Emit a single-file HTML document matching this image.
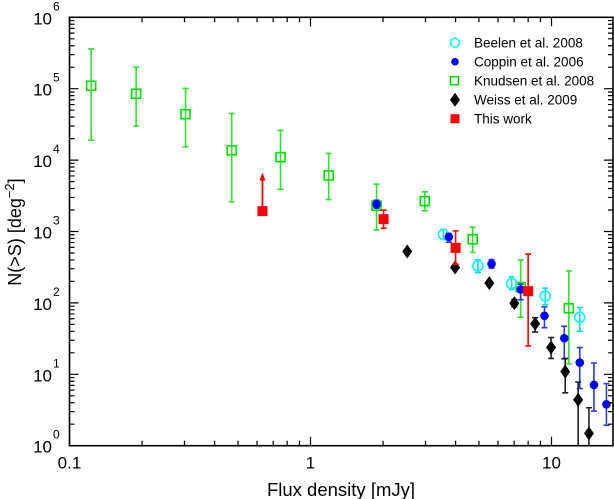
<!DOCTYPE html>
<html><head><meta charset="utf-8"><style>
html,body{margin:0;padding:0;background:#fff;width:614px;height:499px;overflow:hidden}
svg text{font-family:"Liberation Sans",Arial,sans-serif;fill:#000}
</style></head><body>
<svg id="chart" width="614" height="499" xmlns="http://www.w3.org/2000/svg">
<defs><clipPath id="clip"><rect x="69.5" y="17.3" width="543.5" height="428.4"/></clipPath></defs>
<g id="marks" clip-path="url(#clip)"></g>
<g id="axes"></g>
<g id="legend"></g>
<text x="341" y="496" font-size="18.5" text-anchor="middle">Flux density [mJy]</text>
<text transform="translate(21,232) rotate(-90)" font-size="18" text-anchor="middle">N(&gt;S) [deg<tspan dy="-7" font-size="13">−2</tspan><tspan dy="7">]</tspan></text>
</svg>
<script>
// Knudsen et al. 2008
const knX=[0.123,0.189,0.303,0.471,0.751,1.19,1.88,2.98,4.71,7.45,11.8];
const knY=[1.1e5,8.5e4,4.4e4,1.37e4,1.1e4,6.1e3,2.3e3,2.66e3,780,167,84];
const knHi=[3.6e5,2.0e5,1.01e5,4.5e4,2.6e4,1.24e4,4.6e3,3.6e3,1150,400,280];
const knLo=[1.9e4,3.0e4,1.54e4,2.6e3,3.9e3,2.8e3,1.05e3,1.95e3,510,63,14];
// Coppin et al. 2006
const coX=[1.88,3.75,5.64,7.45,9.35,11.3,13.1,15.0,16.9];
const coY=[2400,840,352,154,66,32,14.6,7.1,3.8];
const coHi=[2750,940,405,183,88,47,23.7,14.4,7.4];
const coLo=[2120,708,306,111,45,16.4,6.3,3.06,1.93];
// Beelen et al. 2008
const beX=[3.56,4.95,6.83,9.42,13.1];
const beY=[908,330,187,125,63];
const beHi=[1070,401,231,161,86];
const beLo=[773,266,154,94,40];
// Weiss et al. 2009
const weX=[2.52,3.98,5.52,7.01,8.55,9.96,11.4,12.9,14.3];
const weY=[525,313,189,99,51,23.7,10.9,4.4,1.49];
const weHi=[525,313,189,112,62,32.7,16.7,7.8,3.4];
const weLo=[525,313,189,88,39,16.7,5.5,0.5,0.5];
// This work
const twX=[0.632,2.01,4.0,8.0];
const twY=[1930,1490,590,146];
const twHi=[6700,1990,1020,481];
const twLo=[1930,1110,348,25];
const xTicks=[0.1,1,10];
const xTickLabels=["0.1","1","10"];
const yExps=[0,1,2,3,4,5,6];

const NS="http://www.w3.org/2000/svg";
const L=69.5,R=613,T=17.3,B=445.7;
const X=v=>L+241*Math.log10(v/0.1);
const Y=v=>T+71.4*(6-Math.log10(v));
const marks=document.getElementById('marks'),axes=document.getElementById('axes'),legend=document.getElementById('legend');
function mk(tag,attrs,parent){const e=document.createElementNS(NS,tag);for(const k in attrs)e.setAttribute(k,attrs[k]);parent.appendChild(e);return e;}
function marker(type,color,cx,cy,parent){
  if(type==='sq')return mk('rect',{x:cx-4.5,y:cy-4.5,width:9,height:9,fill:'none',stroke:color,'stroke-width':1.6},parent);
  if(type==='fsq')return mk('rect',{x:cx-5,y:cy-5,width:10,height:10,fill:color},parent);
  if(type==='oc')return mk('circle',{cx:cx,cy:cy,r:5,fill:'none',stroke:color,'stroke-width':1.6},parent);
  if(type==='fc')return mk('circle',{cx:cx,cy:cy,r:4.3,fill:color},parent);
  if(type==='dm')return mk('polygon',{points:`${cx},${cy-7} ${cx+5},${cy} ${cx},${cy+7} ${cx-5},${cy}`,fill:color},parent);
}
function series(name,xs,ys,hi,lo,type,color,ecolor){
  const g=mk('g',{},marks);
  
  
  xs.forEach((x,i)=>{
    const cx=X(x),yh=Y(hi[i]),yl=Y(lo[i]);
    if(Math.abs(yl-yh)>1){
      const eb=mk('path',{d:`M${cx},${yh}V${yl}M${cx-3},${yh}H${cx+3}M${cx-3},${yl}H${cx+3}`,stroke:ecolor,'stroke-width':1.6,fill:'none'},g);
      
      
    }
    const m=marker(type,color,cx,Y(ys[i]),g);
    
    
  });
  return g;
}
series('knudsen',knX,knY,knHi,knLo,'sq','#00e000','#33e033');
series('beelen',beX,beY,beHi,beLo,'oc','#00ffff','#00e0e0');
series('coppin',coX,coY,coHi,coLo,'fc','#0000ff','#2a3ae8');
series('weiss',weX,weY,weHi,weLo,'dm','#000','#222');
(function(){
  const g=mk('g',{},marks);
  
  
  twX.forEach((x,i)=>{
    const cx=X(x),yh=Y(twHi[i]),yl=Y(twLo[i]);
    if(i===0){
      const a=mk('path',{d:`M${cx},${Y(twY[i])}V${yh+6}`,stroke:'#f00','stroke-width':1.8},g);
      
      
      const h=mk('polygon',{points:`${cx},${yh} ${cx-3},${yh+8} ${cx+3},${yh+8}`,fill:'#f00'},g);
      
      
    } else {
      const eb=mk('path',{d:`M${cx},${yh}V${yl}M${cx-3},${yh}H${cx+3}M${cx-3},${yl}H${cx+3}`,stroke:'#f00','stroke-width':1.6,fill:'none'},g);
      
      
    }
    const m=marker('fsq','#f00',cx,Y(twY[i]),g);
    
    
  });
})();
const fr=mk('rect',{x:L,y:T,width:R-L,height:B-T,fill:'none',stroke:'#000','stroke-width':1.6},axes);


let d='';
for(let e=-1;e<=1;e++){for(let k=1;k<10;k++){const v=k*Math.pow(10,e);const x=X(v);if(x>R-1)continue;const len=k===1?9:5;d+=`M${x},${B}v${-len}M${x},${T}v${len}`;}}
for(let e=0;e<6;e++){for(let k=1;k<10;k++){const v=k*Math.pow(10,e);const y=Y(v);const len=k===1?9:5;d+=`M${L},${y}h${len}M${R},${y}h${-len}`;}}
const tk=mk('path',{d:d,stroke:'#000','stroke-width':1.2,fill:'none'},axes);


xTicks.forEach((v,i)=>{
  const t=mk('text',{x:X(v),y:B+23,'font-size':17,'text-anchor':'middle'},axes);
  t.textContent=xTickLabels[i];
  
  
});
yExps.forEach(e=>{
  const y=Y(Math.pow(10,e));
  const t=mk('text',{x:52,y:y+7,'font-size':17,'text-anchor':'end'},axes);
  t.textContent='10';
  
  
  const s=mk('text',{x:53,y:y-7,'font-size':12},axes);
  s.textContent=String(e);
  
  
});
const leg=[['oc','#00ffff','Beelen et al. 2008'],['fc','#0000ff','Coppin et al. 2006'],['sq','#00e000','Knudsen et al. 2008'],['dm','#000','Weiss et al. 2009'],['fsq','#f00','This work']];
leg.forEach((it,i)=>{
  const y=42.7+19*i;
  const g=mk('g',{},legend);
  
  
  if(it[0]==='sq'){mk('rect',{x:450.5,y:y-4,width:8,height:8,fill:'none',stroke:it[1],'stroke-width':1.5},g);}
  else if(it[0]==='fsq'){mk('rect',{x:450.5,y:y-4.5,width:9,height:9,fill:it[1]},g);}
  else if(it[0]==='oc'){mk('circle',{cx:455,cy:y,r:4.5,fill:'none',stroke:it[1],'stroke-width':1.5},g);}
  else if(it[0]==='fc'){mk('circle',{cx:455,cy:y,r:3.8,fill:it[1]},g);}
  else marker('dm',it[1],455,y,g);
  const t=mk('text',{x:474,y:y+5,'font-size':13.5},g);
  t.textContent=it[2];
});
</script>
</body></html>
